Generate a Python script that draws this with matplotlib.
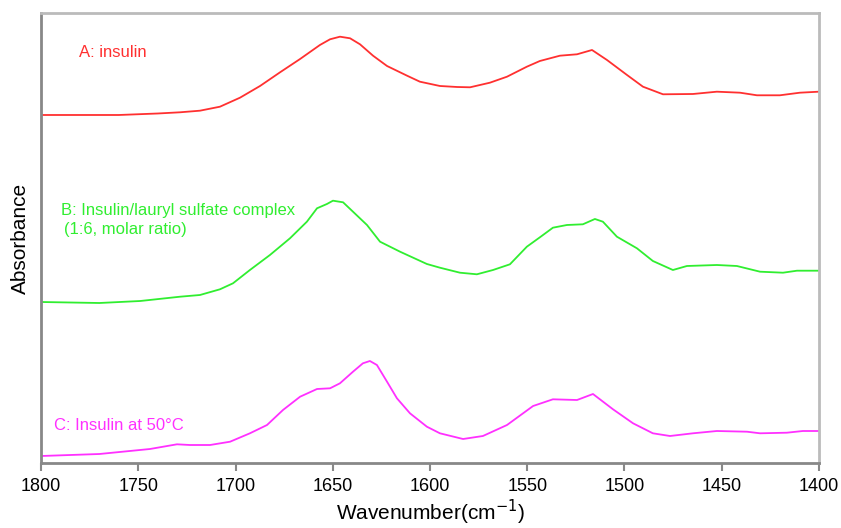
import matplotlib.pyplot as plt

plt.rcParams['font.family'] = ['Liberation Sans', 'DejaVu Sans']

# Spectra (arbitrary absorbance units, stacked)
wn_a = [1800, 1760, 1740, 1728.5, 1718.3, 1708, 1697.7, 1687.4, 1677.1, 1666.8, 1656.6,
        1651.4, 1646.3, 1641.1, 1636, 1629.3, 1622.1, 1611.8, 1605.2, 1594.9, 1586.1,
        1579.4, 1569.2, 1560.4, 1550.2, 1543.5, 1533.2, 1524.4, 1516.7, 1509, 1498.7,
        1490.5, 1480.2, 1464.8, 1452.5, 1440.6, 1431.9, 1420.1, 1409.8, 1400]
abs_a = [348, 348, 349.5, 350.7, 352.3, 356.3, 365.3, 377, 390.7, 404, 418,
         423.7, 426.3, 424.7, 418.7, 407.3, 397, 387.3, 381.3, 377, 376,
         375.7, 380.3, 386.3, 396.3, 402, 407.3, 408.7, 413, 403, 388,
         376.3, 368.7, 369, 371.3, 370.3, 367.7, 367.7, 370.3, 371.3]

wn_b = [1800, 1770, 1749, 1728.5, 1718.3, 1708, 1701.3, 1692.6, 1682.3, 1672, 1663.3,
        1658.1, 1653, 1649.9, 1644.7, 1639.6, 1632.4, 1625.7, 1615.4, 1601.6, 1594.9,
        1584.6, 1575.9, 1567.6, 1558.9, 1550.2, 1543.5, 1536.8, 1529.6, 1521.4, 1515.2,
        1511.1, 1503.9, 1493.6, 1485.4, 1475.1, 1467.9, 1452.5, 1442.2, 1430.3, 1418.5,
        1411.3, 1400]
abs_b = [161, 160, 162, 166.3, 168, 173.7, 179.7, 193, 208, 224.7, 241.3,
         254.7, 259, 262.3, 260.7, 251.3, 238, 221.3, 211.3, 199, 195.3,
         190.3, 188.7, 193, 198.7, 216.3, 225.7, 235.3, 238, 238.7, 244,
         241.3, 226.3, 214.7, 202, 193, 197, 198, 197, 191.3, 190.3,
         192.3, 192.3]

wn_c = [1800, 1770, 1744, 1730.1, 1723.4, 1713.1, 1702.8, 1692.6, 1683.8, 1675.6, 1666.8,
        1658.1, 1651.4, 1646.3, 1639.6, 1634.5, 1630.9, 1627.3, 1622.1, 1617, 1610.3,
        1601.6, 1594.9, 1583, 1572.8, 1560.4, 1547, 1536.8, 1524.4, 1516.2, 1505.9,
        1495.6, 1485.4, 1476.6, 1464.8, 1452.5, 1437, 1430.3, 1416.5, 1408.3, 1400]
abs_c = [7, 9, 14, 18.7, 18, 18, 21.3, 29.7, 38, 53, 66.3,
         74, 74.7, 79.7, 91.3, 99.7, 102, 98, 81.3, 64.7, 49.7,
         36.3, 29.7, 24, 27, 38, 57, 63.7, 63, 69, 53.7,
         39.7, 29.7, 27, 29.7, 32, 31.3, 29.7, 30.3, 32, 32]

fig = plt.figure(figsize=(8.41, 5.28), dpi=100)
ax = fig.add_axes([0.0488, 0.1231, 0.9250, 0.8523])

ax.plot(wn_a, abs_a, color='#ff3030', lw=1.3)
ax.plot(wn_b, abs_b, color='#30ee30', lw=1.3)
ax.plot(wn_c, abs_c, color='#ff30ff', lw=1.3)

ax.text(1780.5, 410, 'A: insulin', color='#ff3030', fontsize=12, va='center')
ax.text(1789.5, 252, 'B: Insulin/lauryl sulfate complex', color='#30ee30', fontsize=12, va='center')
ax.text(1788, 233, '(1:6, molar ratio)', color='#30ee30', fontsize=12, va='center')
ax.text(1793.3, 38, 'C: Insulin at 50°C', color='#ff30ff', fontsize=12, va='center')

ax.set_xlim(1800, 1400)
ax.set_ylim(0, 450)
ax.set_xticks(range(1800, 1399, -50))
ax.set_yticks([])
ax.tick_params(axis='x', labelsize=13, length=6, width=1.5, color='#888888', pad=5)

for side in ['left', 'bottom']:
    ax.spines[side].set_color('#888888')
    ax.spines[side].set_linewidth(2)
for side in ['top', 'right']:
    ax.spines[side].set_color('#bbbbbb')
    ax.spines[side].set_linewidth(2)

ax.set_xlabel('Wavenumber(cm$^{-1}$)', fontsize=15, labelpad=2)
ax.set_ylabel('Absorbance', fontsize=15, labelpad=8)

fig.savefig('out.png', dpi=100)
